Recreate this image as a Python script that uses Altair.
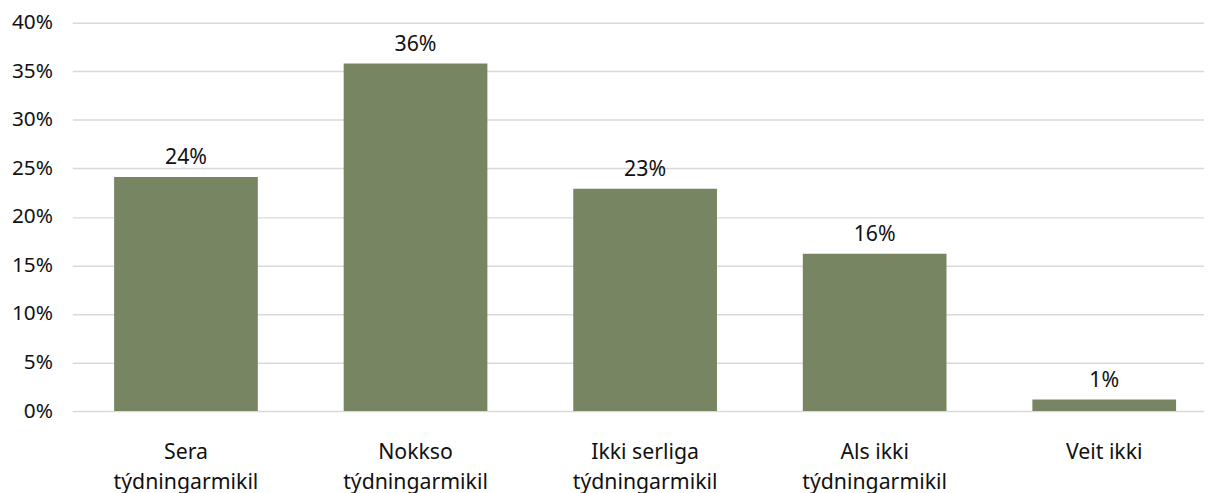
import altair as alt
import pandas as pd

categories = ["Sera|týdningarmikil", "Nokkso|týdningarmikil", "Ikki serliga|týdningarmikil",
              "Als ikki|týdningarmikil", "Veit ikki"]
values = [0.241, 0.358, 0.229, 0.162, 0.012]

df = pd.DataFrame({"cat": categories, "val": values})

FONT = "Noto Sans"
BAR = "#778563"

x = alt.X("cat:N", sort=categories, title=None,
          scale=alt.Scale(paddingInner=0.374, paddingOuter=0.152, align=0.6),
          axis=alt.Axis(labelExpr="split(datum.label, '|')", labelAngle=0,
                        labelFont=FONT, labelFontSize=21.5, labelColor="#111111",
                        labelLineHeight=30, labelPadding=31, labelBaseline="top",
                        domain=False, ticks=False, grid=False))
y = alt.Y("val:Q", title=None,
          scale=alt.Scale(domain=[0, 0.4], nice=False),
          axis=alt.Axis(format=".0%", values=[0, 0.05, 0.1, 0.15, 0.2, 0.25, 0.3, 0.35, 0.4],
                        labelFont=FONT, labelFontSize=21, labelColor="#111111",
                        labelPadding=20, domain=False, ticks=False,
                        gridColor="#d9d9d9", gridWidth=1.5))

bars = alt.Chart(df).mark_bar(color=BAR).encode(x=x, y=y)
text = alt.Chart(df).mark_text(font=FONT, fontSize=21.5, color="#111111",
                               baseline="alphabetic", dy=-13).encode(
    x=alt.X("cat:N", sort=categories),
    y="val:Q",
    text=alt.Text("val:Q", format=".0%"))

chart = (bars + text).properties(
    width=1145, height=393,
    autosize=alt.AutoSizeParams(type="none"),
    padding={"left": 65, "top": 12, "right": 0, "bottom": 80},
    background="white",
).configure_view(stroke=None)

chart.save("out.html", embed_options={"renderer": "svg", "actions": False})
